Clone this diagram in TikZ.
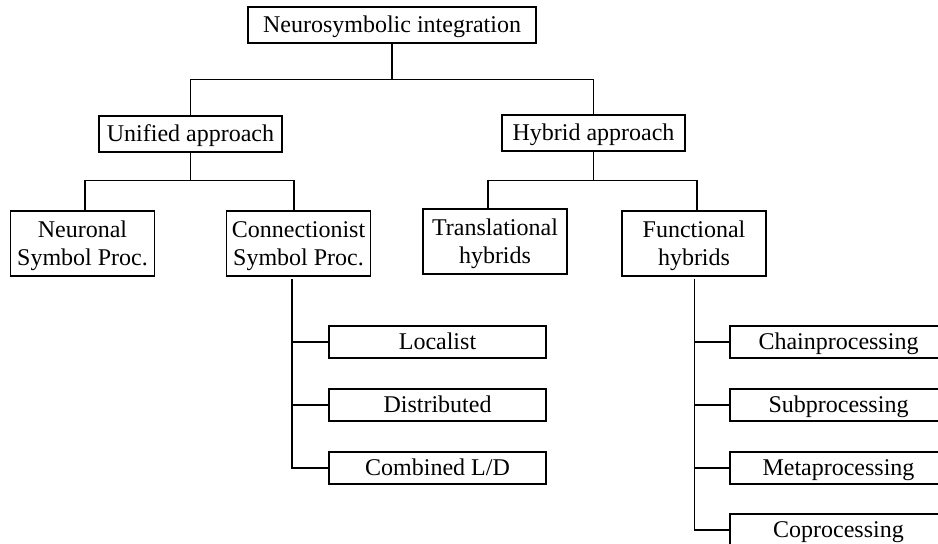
\documentclass[tikz,border=0pt]{standalone}
\usepackage{fontspec}
\setmainfont{Liberation Serif}
\usetikzlibrary{calc}
\begin{document}
\begin{tikzpicture}
  [x=0.5pt,y=-0.5pt,line width=.6pt,
   every node/.style={draw,inner sep=0pt,align=center,font=\fontsize{12}{14}\selectfont},
   single/.style={text height=9pt,text depth=1pt},
   mid/.style={single,minimum width=91.5pt,minimum height=18pt},
   pair/.style={text depth=0pt,minimum width=72pt,minimum height=32.5pt},
   leaf/.style={single,minimum width=108.5pt,minimum height=16pt}]
  \useasboundingbox (0,0) rectangle (938,544);
  \node[single,minimum width=144pt,minimum height=18pt] (top) at (392,25) {Neurosymbolic integration};
  \node[mid] (unified) at (190.5,134) {Unified approach};
  \node[mid] (hybrid) at (593.5,133) {Hybrid approach};
  \node[pair] (neuronal) at (82.5,243.5) {Neuronal\\Symbol Proc.};
  \node[pair] (connect) at (298.5,243.5) {Connectionist\\Symbol Proc.};
  \node[pair] (trans) at (495,241.5) {Translational\\hybrids};
  \node[pair] (func) at (694,243.5) {Functional\\hybrids};
  \node[leaf] (local) at (437.5,342) {Localist};
  \node[leaf] (distr) at (437.5,405) {Distributed};
  \node[leaf] (comb) at (437.5,468) {Combined L/D};
  \node[leaf] (chain) at (838.5,342) {Chainprocessing};
  \node[leaf] (sub) at (838.5,405) {Subprocessing};
  \node[leaf] (meta) at (838.5,468) {Metaprocessing};
  \node[leaf] (co) at (838.5,530) {Coprocessing};
  \coordinate (cstem) at (292,279);
  \coordinate (fstem) at (694.5,279);
  % bus drop below the parent, and x offset of the child's line
  \foreach \from/\to/\d/\dx in {top/unified/36/0,top/hybrid/36/0,unified/neuronal/28/2.5,
      unified/connect/28/-4.5,hybrid/trans/29/-7,hybrid/func/29/3}
    \draw (\from.south) -- ++(0,\d) -| ($(\to.north)+(\dx,0)$);
  \foreach \leaf in {local,distr,comb}
    \draw (cstem) |- (\leaf.west);
  \foreach \leaf in {chain,sub,meta,co}
    \draw (fstem) |- (\leaf.west);

\end{tikzpicture}
\end{document}
